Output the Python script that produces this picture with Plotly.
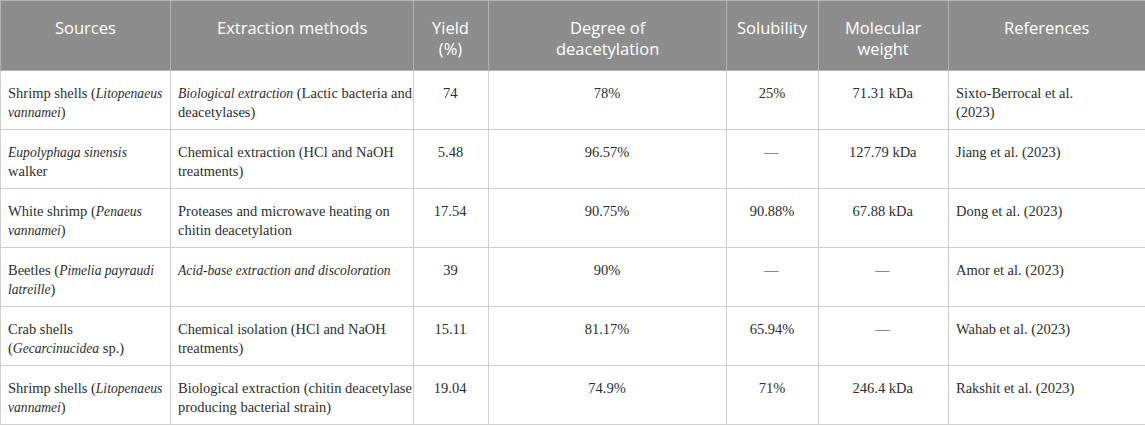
import plotly.graph_objects as go

# Column headers
headers = ['Sources', 'Extraction methods', 'Yield<br>(%)', 'Degree of<br>deacetylation',
           'Solubility', 'Molecular<br>weight', 'References']

# Table body, one list per column
sources = [
    'Shrimp shells (<i>Litopenaeus</i><br><i>vannamei</i>)',
    '<i>Eupolyphaga sinensis</i><br>walker',
    'White shrimp (<i>Penaeus</i><br><i>vannamei</i>)',
    'Beetles (<i>Pimelia payraudi</i><br><i>latreille</i>)',
    'Crab shells<br>(<i>Gecarcinucidea</i> sp.)',
    'Shrimp shells (<i>Litopenaeus</i><br><i>vannamei</i>)',
]
methods = [
    '<i>Biological extraction</i> (Lactic bacteria and<br>deacetylases)',
    'Chemical extraction (HCl and NaOH<br>treatments)',
    'Proteases and microwave heating on<br>chitin deacetylation',
    '<i>Acid-base extraction and discoloration</i>',
    'Chemical isolation (HCl and NaOH<br>treatments)',
    'Biological extraction (chitin deacetylase<br>producing bacterial strain)',
]
yields = ['74', '5.48', '17.54', '39', '15.11', '19.04']
deacetylation = ['78%', '96.57%', '90.75%', '90%', '81.17%', '74.9%']
solubility = ['25%', '\u2014', '90.88%', '\u2014', '65.94%', '71%']
mol_weight = ['71.31 kDa', '127.79 kDa', '67.88 kDa', '\u2014', '\u2014', '246.4 kDa']
references = [
    'Sixto-Berrocal et al.<br>(2023)',
    'Jiang et al. (2023)',
    'Dong et al. (2023)',
    'Amor et al. (2023)',
    'Wahab et al. (2023)',
    'Rakshit et al. (2023)',
]

col_widths = [170, 243, 75, 238, 92, 130, 197]
W, H = 1145, 426


def fmt(text):
    # tiny first line pushes the text down a bit, like the padding in the original
    text = text.replace('<i>', '<i><span style="font-size:13.6px">').replace('</i>', '</span></i>')
    lines = ['<span style="font-size:14.5px">%s</span>' % s for s in text.split('<br>')]
    return '<span style="font-size:1px"> </span><br>' + '<br>'.join(lines)


columns = [sources, methods, yields, deacetylation, solubility, mol_weight, references]
cell_values = [[fmt(v) for v in col] for col in columns]

fig = go.Figure(go.Table(
    columnwidth=col_widths,
    header=dict(
        values=[''] * len(headers),
        fill_color='#8d8d8d',
        line=dict(color='#b3b3b3', width=1),
        height=70,
    ),
    cells=dict(
        values=cell_values,
        fill_color='white',
        line=dict(color='#d0d0d0', width=1),
        align=['left', 'left', 'center', 'center', 'center', 'center', 'left'],
        font=dict(family='Liberation Serif', size=14.5, color='#2e2e2e'),
        height=59,
    ),
))

# header labels, centred in each column
left = 0
for name, w in zip(headers, col_widths):
    fig.add_annotation(
        x=(left + w / 2) / W, y=1 - 14 / H,
        xref='paper', yref='paper', xanchor='center', yanchor='top',
        text=name, showarrow=False, align='center',
        font=dict(family='Open Sans', size=16.5, color='white'),
    )
    left += w

fig.update_layout(
    width=W,
    height=H,
    margin=dict(l=0, r=0, t=0, b=0),
    paper_bgcolor='white',
)

fig.write_html('out.html', config={'displayModeBar': False},
               post_script="document.body.style.margin='0px';")
